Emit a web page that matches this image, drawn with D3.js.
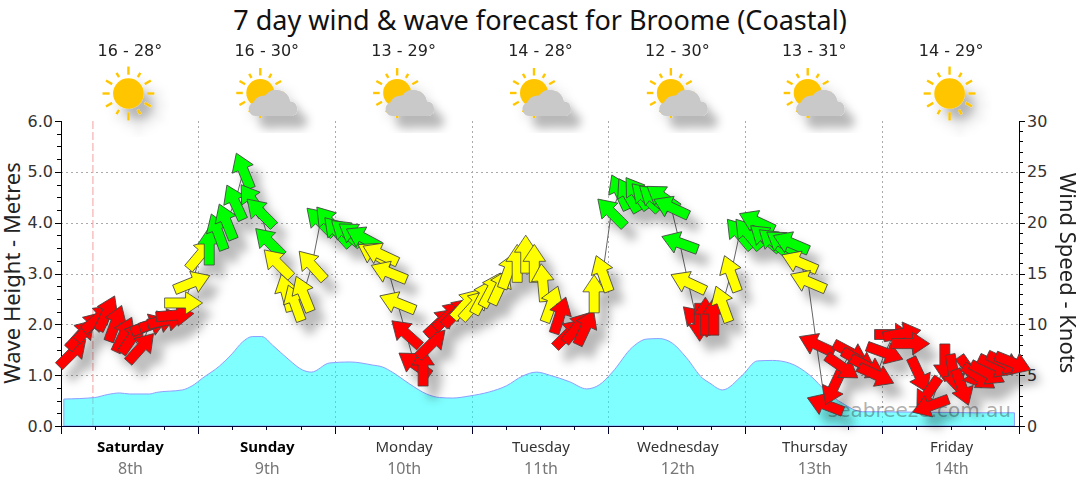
<!DOCTYPE html>
<html>
<head>
<meta charset="utf-8">
<script src="https://cdn.jsdelivr.net/npm/d3@7"></script>
<style>
  body { margin: 0; background: #fff; }
  svg { display: block; }
  text { font-family: "Noto Sans", sans-serif; }
  .axis path, .axis line { fill: none; shape-rendering: crispEdges; }
  .num text { font-family: "DejaVu Sans", sans-serif; font-size: 16px; fill: #333; }
</style>
</head>
<body>
<svg class="chart"></svg>
<script>
const size = {w: 1080, h: 490};

// day headers
const dayNames = ['Saturday', 'Sunday', 'Monday', 'Tuesday', 'Wednesday', 'Thursday', 'Friday'];
const dayDates = ['8th', '9th', '10th', '11th', '12th', '13th', '14th'];
const dayBold = [true, true, false, false, false, false, false];
const tempRanges = ['16 - 28°', '16 - 30°', '13 - 29°', '14 - 28°', '12 - 30°', '13 - 31°', '14 - 29°'];
const dayIcons = ['sun', 'cloud', 'cloud', 'cloud', 'cloud', 'cloud', 'sun'];

// wave height, metres, by hours from the start of Saturday
const waveHours = [0.5, 5.9, 8.2, 10.3, 12, 15.5, 16.7, 21.3, 23, 24.8, 27.8, 30, 31.8, 33.6, 35.2, 37.1, 40, 42.4, 43.9,
  47.1, 50.6, 54.6, 56.4, 58.1, 61.1, 64.1, 66.4, 68.7, 71.6, 75.1, 78.1, 80.9, 83.4, 85.7, 89.2, 92.2, 94.4, 96.7,
  100.2, 102.7, 104.9, 107.2, 109.7, 112.5, 113.7, 116, 119.5, 122.1, 124.8, 127.7, 131.3, 134.3, 137, 140.6, 143.5, 160.5, 167.2];
const waveMetres = [0.53, 0.56, 0.62, 0.65, 0.63, 0.63, 0.66, 0.71, 0.79, 0.94, 1.18, 1.42, 1.65, 1.76, 1.76, 1.59, 1.30, 1.10, 1.06,
  1.24, 1.26, 1.20, 1.16, 1.06, 0.83, 0.63, 0.56, 0.55, 0.59, 0.67, 0.79, 0.98, 1.06, 1.00, 0.87, 0.73, 0.81, 1.06,
  1.55, 1.71, 1.72, 1.63, 1.34, 0.94, 0.85, 0.71, 1.00, 1.28, 1.29, 1.24, 1.00, 0.67, 0.45, 0.28, 0.28, 0.26, 0.26];

// wind speed (knots) and the way each arrow points (degrees clockwise from up)
const windHours = [2, 3.5, 5, 6.5, 8, 9.5, 11, 12.5, 14, 15.5, 17, 18.5, 20, 21.5, 23, 24.5, 26, 27.5, 29, 30.5, 32, 33.5, 35, 36.5,
  38, 39.5, 41, 42.5, 44, 45.5, 47, 48.5, 50, 51.5, 53, 55, 56, 57.5, 59, 60.5, 62, 63.5, 65, 66.5, 68, 69.5, 71, 72.5,
  74, 75.5, 77, 78.5, 80, 81.5, 83, 84.5, 86, 87.5, 89, 90.5, 92, 93.5, 95, 96.5, 98, 99.5, 101, 102.5, 104, 105.5, 107, 108.5,
  110, 111.5, 112, 113, 114.5, 116, 117.5, 119, 120.5, 122, 123.5, 125, 126.5, 128, 129.5, 131, 132.5, 134, 135.5, 137,
  138.5, 140, 141.5, 143, 144.5, 146, 147.5, 149, 150.5, 152, 152.5, 155, 156.5, 158, 159.5, 161, 162.5, 164, 165.5, 167];
const windKnots = [7.2, 9, 9.8, 10.6, 11.1, 10.1, 9, 8.7, 7.7, 9.9, 10.2, 10.4, 10.9, 12.1, 14.1, 16.9, 17.7, 19.1, 20.1, 22, 25.1, 22.2, 21, 18.1,
  16, 13.1, 12.1, 13, 15.8, 20.1, 20.1, 19.1, 19, 18.8, 18.5, 16.9, 16.9, 15.1, 12.1, 9.1, 6.1, 5.8, 8.1, 10.2, 10.9, 11.2, 12, 11.9,
  12.7, 13.4, 13.7, 15.3, 16, 16.9, 16, 14.1, 12, 10.9, 9.1, 9.7, 9.7, 13, 15, 21, 23, 22.7, 22.9, 22.5, 22.4, 22.5, 21.5, 18,
  14.1, 10.4, 10.2, 10.8, 10.8, 12, 15, 18.9, 18.9, 20.1, 18.5, 18.1, 18, 18, 16.1, 14.2, 8, 2.1, 3.8, 5.8,
  7.2, 6.4, 5.8, 5, 7.2, 9, 9.1, 8.1, 5, 3.2, 2, 6.2, 5.2, 3.8, 5.3, 4.8, 5.2, 5.9, 6.2, 6.2];
const windDirs = [45, 42, 42, 50, 25, 20, 25, 35, 42, 70, 72, 78, 85, 90, 68, 40, 0, -20, -22, -25, -22, -35, -45, -45,
  -45, -15, -20, -22, -42, -45, -40, -42, -50, -55, -62, -60, -65, -68, -68, -48, -55, 0, 45, 47, 45, 45, 42, 42,
  28, 28, 25, 20, 0, 0, 0, -5, 20, 18, 45, 40, 25, 0, -20, -45, -25, -30, -35, -45, -50, -55, -65, -70,
  -65, -45, 180, 0, 0, -20, -20, -40, -40, -65, -50, -50, -55, -67, -67, -67, -65, -69, 205, 125,
  118, 120, 118, 115, 110, 90, 80, 90, 155, 215, 250, 180, 170, 160, 145, 125, 118, 115, 115, 112];

const waveTicks = [0, 1, 2, 3, 4, 5, 6];
const windTicks = [0, 5, 10, 15, 20, 25, 30];
const nowHour = 5.6;

const svg = d3.select('svg.chart').attr('width', size.w).attr('height', size.h);

// drop shadow used by the arrows and the weather icons
const shadow = svg.append('defs').append('filter')
  .attr('id', 'shadow')
  .attr('x', '-20%').attr('y', '-20%').attr('width', '150%').attr('height', '150%');
shadow.append('feDropShadow')
  .attr('dx', 10).attr('dy', 12)
  .attr('stdDeviation', 5)
  .attr('flood-color', '#000').attr('flood-opacity', 0.28);

const x = d3.scaleLinear().domain([0, 168]).range([61, 1019]);
const yWave = d3.scaleLinear().domain([0, 6]).range([426, 121]);
const yWind = d3.scaleLinear().domain([0, 30]).range([426, 121]);
const windColour = d3.scaleThreshold().domain([11.5, 17.3]).range(['#ff0000', '#ffff00', '#00ff00']);

// grid
const grid = svg.append('g').attr('stroke', '#aaa').attr('stroke-dasharray', '2,3');
grid.selectAll('line.h')
  .data(waveTicks.slice(1, 6))
  .join('line')
  .attr('x1', x(0)).attr('x2', x(168))
  .attr('y1', d => Math.round(yWave(d)) + 0.5).attr('y2', d => Math.round(yWave(d)) + 0.5);
grid.selectAll('line.v')
  .data(d3.range(24, 168, 24))
  .join('line')
  .attr('x1', d => Math.round(x(d)) + 0.5).attr('x2', d => Math.round(x(d)) + 0.5)
  .attr('y1', yWave(6)).attr('y2', yWave(0));

// now line
svg.append('line')
  .attr('x1', x(nowHour)).attr('x2', x(nowHour))
  .attr('y1', yWave(6)).attr('y2', yWave(0))
  .attr('stroke', '#f4a0a0').attr('stroke-dasharray', '8,3');

// wave area
const waveArea = d3.area()
  .x((d, i) => x(waveHours[i]))
  .y0(yWave(0))
  .y1(d => yWave(d))
  .curve(d3.curveMonotoneX);
svg.append('path')
  .attr('d', waveArea(waveMetres))
  .attr('fill', '#00ffff').attr('fill-opacity', 0.5)
  .attr('stroke', '#8f9fff').attr('stroke-width', 1);

// watermark
svg.append('text')
  .attr('x', 1011).attr('y', 417)
  .attr('text-anchor', 'end')
  .style('font-family', '"DejaVu Sans", sans-serif')
  .style('font-size', '20px')
  .attr('fill', '#333').attr('fill-opacity', 0.4)
  .text('seabreeze.com.au');

// axes
const bottomMinor = d3.axisBottom(x).tickValues(d3.range(0, 169, 6)).tickSize(4).tickFormat('');
const bottomMajor = d3.axisBottom(x).tickValues(d3.range(0, 169, 24)).tickSize(8).tickFormat('');
svg.append('g').attr('class', 'axis').attr('transform', 'translate(0,426)').attr('color', '#000033').call(bottomMinor);
svg.append('g').attr('class', 'axis').attr('transform', 'translate(0,426)').attr('color', '#000033').call(bottomMajor);

const leftMinor = d3.axisLeft(yWave).tickValues(d3.range(0, 6.01, 0.25)).tickSize(4).tickFormat('');
const leftMajor = d3.axisLeft(yWave).tickValues(waveTicks).tickSize(6).tickPadding(2);
svg.append('g').attr('class', 'axis').attr('transform', 'translate(61,0)').attr('color', '#000').call(leftMinor);
svg.append('g').attr('class', 'axis num').attr('transform', 'translate(61,0)').attr('color', '#000').call(leftMajor);

const rightMinor = d3.axisRight(yWind).tickValues(d3.range(0, 31)).tickSize(4).tickFormat('');
const rightMajor = d3.axisRight(yWind).tickValues(windTicks).tickSize(6).tickPadding(2);
svg.append('g').attr('class', 'axis').attr('transform', 'translate(1019,0)').attr('color', '#000').call(rightMinor);
svg.append('g').attr('class', 'axis num').attr('transform', 'translate(1019,0)').attr('color', '#000').call(rightMajor);

// wind line and arrows
const windLine = d3.line()
  .x((d, i) => x(windHours[i]))
  .y(d => yWind(d));
svg.append('path')
  .attr('d', windLine(windKnots))
  .attr('fill', 'none').attr('stroke', '#666').attr('stroke-width', 1);

const arrowShape = 'M0,-19L11.3,-2L5,-2L5,19L-5,19L-5,-2L-11.3,-2Z';
svg.append('g')
  .attr('filter', 'url(#shadow)')
  .selectAll('path')
  .data(windKnots)
  .join('path')
  .attr('d', arrowShape)
  .attr('transform', (d, i) => `translate(${x(windHours[i])},${yWind(d)}) rotate(${windDirs[i]})`)
  .attr('fill', d => windColour(d))
  .attr('stroke', '#444').attr('stroke-width', 0.8);

// title and axis titles
svg.append('text')
  .attr('x', 540).attr('y', 30)
  .attr('text-anchor', 'middle')
  .style('font-size', '27px')
  .attr('fill', '#111')
  .text('7 day wind & wave forecast for Broome (Coastal)');
svg.append('text')
  .attr('transform', 'translate(20,273) rotate(-90)')
  .attr('text-anchor', 'middle')
  .style('font-size', '22px')
  .attr('fill', '#222')
  .text('Wave Height - Metres');
svg.append('text')
  .attr('transform', 'translate(1060,273) rotate(90)')
  .attr('text-anchor', 'middle')
  .style('font-size', '22px')
  .attr('fill', '#222')
  .text('Wind Speed - Knots');

// one column per day: temperature, icon, day name, date
const dayX = d => x(24 * d + 12);
const days = svg.selectAll('g.day')
  .data(dayNames)
  .join('g')
  .attr('class', 'day');

days.append('text')
  .attr('x', (d, i) => dayX(i) + 0.5).attr('y', 56)
  .attr('text-anchor', 'middle')
  .style('font-family', '"DejaVu Sans", sans-serif')
  .style('font-size', '16px')
  .attr('fill', '#222')
  .text((d, i) => tempRanges[i]);

days.append('text')
  .attr('x', (d, i) => dayX(i) + 1).attr('y', 452)
  .attr('text-anchor', 'middle')
  .style('font-size', '15px')
  .style('font-weight', (d, i) => dayBold[i] ? 'bold' : 'normal')
  .attr('fill', (d, i) => dayBold[i] ? '#000' : '#333')
  .text(d => d);

days.append('text')
  .attr('x', (d, i) => dayX(i) + 1).attr('y', 474)
  .attr('text-anchor', 'middle')
  .style('font-size', '16px')
  .attr('fill', '#777')
  .text((d, i) => dayDates[i]);

// weather icons
const rayLengths = [8, 5, 7, 7, 7, 5, 8, 5, 7, 7, 7, 5];
function drawSun(g, cx, cy, r) {
  g.append('circle').attr('cx', cx).attr('cy', cy).attr('r', r).attr('fill', '#ffc600');
  g.selectAll('line.ray')
    .data(rayLengths)
    .join('line')
    .attr('class', 'ray')
    .attr('x1', (d, i) => cx + (r + 3.5) * Math.sin(i * Math.PI / 6))
    .attr('y1', (d, i) => cy - (r + 3.5) * Math.cos(i * Math.PI / 6))
    .attr('x2', (d, i) => cx + (r + 3.5 + d * r / 15) * Math.sin(i * Math.PI / 6))
    .attr('y2', (d, i) => cy - (r + 3.5 + d * r / 15) * Math.cos(i * Math.PI / 6))
    .attr('stroke', '#ffc600').attr('stroke-width', 2.4);
}

dayIcons.forEach((icon, i) => {
  const cx = dayX(i);
  const g = svg.append('g').attr('filter', 'url(#shadow)');
  if (icon === 'sun') {
    drawSun(g, cx - 1, 93.5, 15.3);
  } else {
    drawSun(g, cx - 6, 93, 14);
    g.append('path')
      .attr('transform', `translate(${cx + 4},0)`)
      .attr('d', 'M-15,116 a7,7 0 0 1 -2,-13.5 a12,12 0 0 1 12,-7 a14,14 0 0 1 25,6 a7.5,7.5 0 0 1 2,14.5 Z')
      .attr('fill', '#c9c9c9');
  }
});
</script>
</body>
</html>
